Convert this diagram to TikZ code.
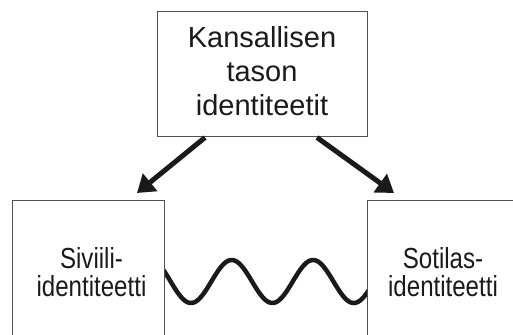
\documentclass[tikz,border=0pt]{standalone}
\usepackage{fontspec}
\setmainfont{Liberation Sans}
\usepackage{graphicx}
\usetikzlibrary{arrows.meta,calc}
\definecolor{boxline}{HTML}{505050}
\definecolor{ink}{HTML}{1A1A1A}
\tikzset{
  idbox/.style={draw=boxline, line width=1pt, fill=white, text=ink, inner sep=0pt, align=center},
  arr/.style={draw=ink, line width=5pt, -{Triangle[length=17pt,width=22pt]}},
  wave/.style={draw=ink, line width=4.5pt}
}
\newcommand{\toptext}[1]{\fontsize{29}{34}\selectfont\raisebox{-4.7pt}{\begin{tabular}{@{}c@{}}#1\end{tabular}}}
\newcommand{\lowtext}[1]{\fontsize{29}{25.5}\selectfont\scalebox{0.83}[1]{\begin{tabular}{@{}c@{}}#1\end{tabular}}}
\begin{document}
\begin{tikzpicture}[x=1pt,y=1pt]
\path[use as bounding box, clip] (0,0) rectangle (513,334);
\fill[white] (0,0) rectangle (513,334);
% wave behind the boxes
\draw[wave] plot[domain=150:380, samples=160, smooth] (\x, {52.5 - 21.5*cos((\x-191)*4.4226)});
% boxes
\node[idbox, minimum width=210pt, minimum height=125pt] (top) at (262,259.5)
  {\toptext{Kansallisen\\tason\\identiteetit}};
\node[idbox, minimum width=152pt, minimum height=149.4pt] (civ) at (88,58.3)
  {\hspace*{7pt}\lowtext{Siviili-\\identiteetti}};
\node[idbox, minimum width=152pt, minimum height=149.4pt] (mil) at (443,58.3)
  {\lowtext{Sotilas-\\identiteetti}};
% arrow tips just above the lower boxes
\coordinate (civtip) at (137,141);
\coordinate (miltip) at (394,141);
\draw[arr] ([xshift=-57pt]top.south) -- (civtip);
\draw[arr] ([xshift=55pt]top.south) -- (miltip);
\end{tikzpicture}
\end{document}
